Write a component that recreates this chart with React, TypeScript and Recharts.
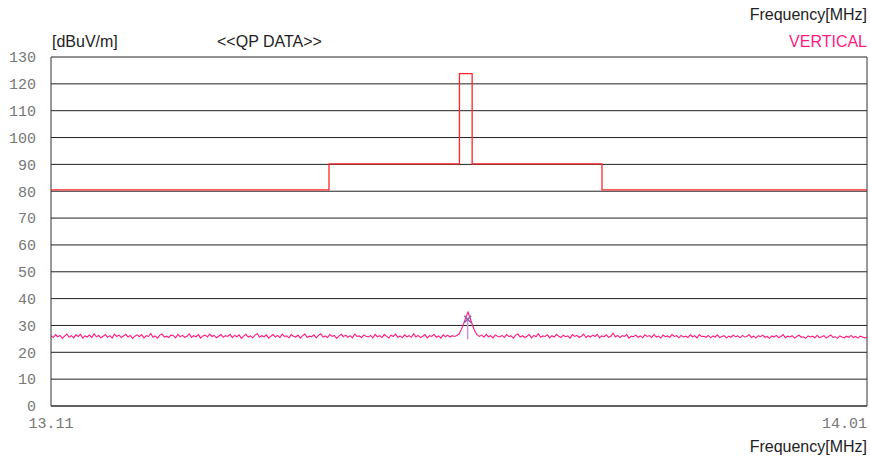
import React from "react";
import { ComposedChart, Line, XAxis, YAxis, CartesianGrid, ReferenceLine, Scatter } from "recharts";

// ---- data ----
const SWEEP_START = 13.11;
const SWEEP_STEP = 0.0025;
const noiseLevels: number[] = [
  26.1, 25.5, 26.6, 25.8, 26.3, 25.2, 26.0, 26.8, 25.6, 26.2, 25.4, 26.5, 25.9, 26.7, 25.3, 26.1, 25.7, 26.4, 25.5, 26.9,
  25.8, 26.3, 25.4, 26.0, 26.6, 25.6, 26.2, 25.3, 26.8, 25.9, 26.4, 25.5, 26.1, 26.7, 25.7, 26.3, 25.2, 26.0, 26.5, 25.8,
  26.6, 25.4, 26.2, 25.9, 27.0, 25.6, 26.1, 25.3, 26.4, 26.8, 25.7, 26.0, 25.5, 26.5, 26.2, 25.4, 26.7, 25.8, 26.3, 25.6,
  26.0, 26.9, 25.5, 26.2, 25.8, 26.6, 25.3, 26.1, 26.4, 25.7, 26.8, 25.9, 26.3, 25.4, 26.0, 26.6, 25.6, 26.2, 25.9, 26.7,
  25.5, 26.3, 25.8, 26.5, 25.2, 26.0, 26.7, 25.7, 26.1, 25.4, 26.4, 26.9, 25.6, 26.2, 25.8, 26.5, 25.3, 26.0, 26.6, 25.7,
  26.3, 25.5, 26.8, 25.9, 26.1, 25.4, 26.6, 26.0, 25.7, 26.4, 25.3, 26.2, 26.8, 25.6, 26.0, 25.8, 26.5, 25.4, 26.3, 26.9,
  25.7, 26.1, 25.5, 26.6, 25.9, 26.3, 25.2, 26.0, 26.7, 25.8, 26.4, 25.6, 26.2, 25.4, 26.8, 25.9, 26.1, 25.5, 26.5, 26.0,
  25.7, 26.3, 25.4, 26.7, 25.8, 26.2, 25.5, 26.6, 26.0, 25.3, 26.4, 25.9, 26.8, 25.6, 26.1, 25.4, 26.5, 25.8, 26.2, 25.6,
  26.9, 25.7, 26.3, 25.5, 26.0, 26.6, 25.4, 26.2, 25.9, 26.7, 25.6, 26.1, 25.3, 26.5, 25.8, 26.4, 25.7, 26.2, 25.9, 26.3,
  26.8, 28.5, 30.5, 33.0, 35.0, 32.5, 30.0, 27.8, 26.5, 25.9, 26.4, 25.6, 26.7, 25.8, 26.2, 25.4, 26.5, 26.0, 25.7, 26.3,
  25.5, 26.6, 25.9, 26.1, 25.3, 26.4, 26.8, 25.7, 26.2, 25.5, 26.0, 26.6, 25.4, 26.3, 25.8, 26.9, 25.6, 26.1, 25.9, 26.5,
  25.4, 26.2, 25.7, 26.7, 26.0, 25.5, 26.4, 25.8, 26.1, 25.3, 26.6, 25.9, 26.3, 25.6, 26.0, 26.8, 25.5, 26.2, 25.7, 26.4,
  25.9, 26.7, 25.4, 26.1, 25.8, 26.5, 25.6, 26.0, 27.1, 25.7, 26.3, 25.5, 26.2, 25.9, 26.6, 25.3, 26.0, 25.8, 26.4, 25.6,
  26.1, 25.4, 26.5, 25.9, 26.2, 25.5, 26.7, 25.7, 26.0, 25.3, 26.4, 25.8, 26.1, 25.6, 26.6, 25.9, 26.2, 25.4, 26.3, 25.7,
  26.0, 25.5, 26.5, 25.8, 26.2, 25.3, 26.6, 25.9, 26.0, 25.6, 26.3, 25.4, 26.1, 25.7, 26.5, 25.5, 25.9, 26.2, 25.3, 26.0,
  25.6, 26.4, 25.8, 26.1, 25.4, 26.3, 25.7, 25.9, 26.6, 25.5, 26.0, 25.3, 26.2, 25.8, 26.4, 25.6, 25.9, 25.2, 26.1, 25.7,
  26.3, 25.5, 25.9, 26.6, 25.4, 26.0, 25.7, 26.2, 25.3, 25.9, 26.4, 25.6, 25.8, 25.2, 26.1, 25.7, 26.0, 25.4, 26.3, 25.5,
  25.8, 26.2, 25.3, 25.9, 26.5, 25.6, 25.8, 25.2, 26.1, 25.7, 25.4, 26.0, 25.6, 26.3, 25.5, 25.9, 25.3, 26.0, 25.7, 25.4,
  25.6,
];

const limitFreq: number[] = [13.11, 13.4166, 13.4166, 13.5605, 13.5605, 13.5745, 13.5745, 13.7177, 13.7177, 14.01];
const limitLevel: number[] = [80.5, 80.5, 90.2, 90.2, 123.8, 123.8, 90.2, 90.2, 80.5, 80.5];

const qpFreq = 13.5695;
const qpLevel = 32.3;
const qpBase = 24.8;

const xTicks: number[] = [13.11, 14.01];
const yTicks: number[] = [0, 10, 20, 30, 40, 50, 60, 70, 80, 90, 100, 110, 120, 130];

// ---- tables ----
const noiseData = noiseLevels.map((v, i) => ({ f: +(SWEEP_START + i * SWEEP_STEP).toFixed(5), v }));
const limitData = limitFreq.map((f, i) => ({ f, v: limitLevel[i] }));
const qpStem = [{ f: qpFreq, v: qpBase }, { f: qpFreq, v: qpLevel }];
const qpPoint = [{ f: qpFreq, v: qpLevel }];

const MONO = "'Liberation Mono', 'DejaVu Sans Mono', monospace";
const SANS = "'Liberation Sans', Arial, sans-serif";
const PINK = "#ff1a80";

const XTick = (props: any) => {
  const { x, y, payload, index } = props;
  const last = index === xTicks.length - 1;
  return (
    <text
      x={x}
      y={y}
      dy={14}
      textAnchor={last ? "end" : "middle"}
      fill="#777"
      fontSize={15}
      fontFamily={MONO}
    >
      {payload.value.toFixed(2)}
    </text>
  );
};

const QpMarker = (props: any) => {
  const { cx, cy } = props;
  const s = 3.5;
  return (
    <g stroke="#8a5aa8" strokeWidth={1.2} fill="none">
      <line x1={cx - s} y1={cy - s} x2={cx + s} y2={cy + s} />
      <line x1={cx - s} y1={cy + s} x2={cx + s} y2={cy - s} />
    </g>
  );
};

export default function App() {
  return (
    <div style={{ position: "absolute", left: 0, top: 0, width: 870, height: 459, background: "#fff" }}>
      <ComposedChart width={870} height={459} margin={{ top: 57, right: 3, bottom: 0, left: 0 }}>
        <CartesianGrid vertical={false} stroke="#222" />
        <XAxis
          dataKey="f"
          type="number"
          domain={[13.11, 14.01]}
          ticks={xTicks}
          allowDataOverflow
          height={53}
          tickLine={false}
          axisLine={{ stroke: "#333" }}
          tick={<XTick />}
          interval={0}
        />
        <YAxis
          type="number"
          domain={[0, 130]}
          ticks={yTicks}
          width={51}
          tickLine={false}
          tickSize={0}
          tickMargin={15}
          axisLine={{ stroke: "#333" }}
          tick={{ fill: "#777", fontSize: 15, fontFamily: MONO }}
          interval={0}
        />
        <ReferenceLine x={14.01} stroke="#333" ifOverflow="extendDomain" />
        <Line data={limitData} dataKey="v" type="linear" stroke="#ff2626" strokeWidth={1.3} dot={false} isAnimationActive={false} />
        <Line data={noiseData} dataKey="v" type="linear" stroke={PINK} strokeWidth={1.1} dot={false} isAnimationActive={false} />
        <Line data={qpStem} dataKey="v" type="linear" stroke="#c496dc" strokeWidth={1.5} dot={false} isAnimationActive={false} />
        <Scatter data={qpPoint} dataKey="v" shape={<QpMarker />} isAnimationActive={false} />
      </ComposedChart>
      <svg width={870} height={459} style={{ position: "absolute", left: 0, top: 0, pointerEvents: "none" }}>
        <text x={867} y={20} textAnchor="end" fontSize={16} fontFamily={SANS} fill="#222">Frequency[MHz]</text>
        <text x={867} y={47} textAnchor="end" fontSize={16} fontFamily={SANS} fill={PINK}>VERTICAL</text>
        <text x={52} y={47} fontSize={16} fontFamily={SANS} fill="#222">[dBuV/m]</text>
        <text x={217} y={47} fontSize={16} fontFamily={SANS} fill="#222">&lt;&lt;QP DATA&gt;&gt;</text>
        <text x={867} y={452} textAnchor="end" fontSize={16} fontFamily={SANS} fill="#222">Frequency[MHz]</text>
      </svg>
    </div>
  );
}
